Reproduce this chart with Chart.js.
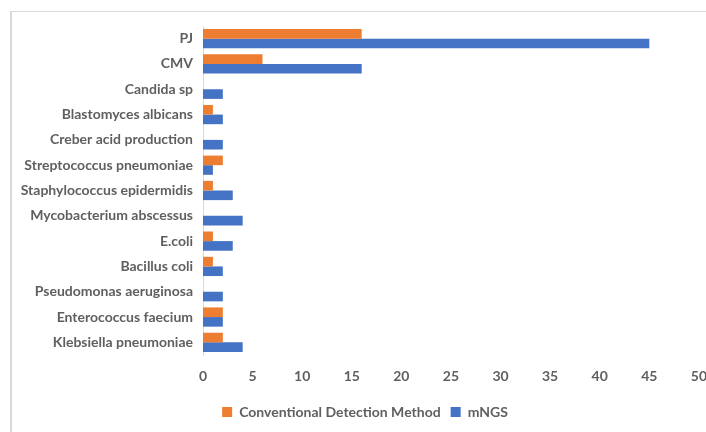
<!DOCTYPE html>
<html>
<head>
<meta charset="utf-8">
<script src="https://cdn.jsdelivr.net/npm/chart.js@4/dist/chart.umd.min.js"></script>
<style>
  html, body { margin: 0; padding: 0; background: #fff; overflow: hidden; width: 706px; height: 432px; }
  #frame { position: absolute; left: 10px; top: 11px; width: 900px; height: 600px;
           border-top: 1px solid #d9d9d9; border-left: 2px solid #d9d9d9; }
  #c { position: absolute; left: 0; top: 0; }
</style>
</head>
<body>
<div id="frame"></div>
<canvas id="c" width="720" height="432"></canvas>
<script>
// Pathogens detected, listed top to bottom
const categories = [
  'PJ', 'CMV', 'Candida sp', 'Blastomyces albicans', 'Creber acid production',
  'Streptococcus pneumoniae', 'Staphylococcus epidermidis', 'Mycobacterium abscessus',
  'E.coli', 'Bacillus coli', 'Pseudomonas aeruginosa', 'Enterococcus faecium',
  'Klebsiella pneumoniae'
];
// Number of positive cases per method
const conventional = [16, 6, 0, 1, 0, 2, 1, 0, 1, 1, 0, 2, 2];
const mngs         = [45, 16, 2, 2, 2, 1, 3, 4, 3, 2, 2, 2, 4];
const seriesNames  = ['Conventional Detection Method', 'mNGS'];
const xTicks = [0, 5, 10, 15, 20, 25, 30, 35, 40, 45, 50];

const textColor = '#5f5f5f';
const labelFont = { family: 'Lato, "Open Sans", sans-serif', size: 14, weight: 'bold' };

// Nudge the bottom legend so it sits centred under the frame rather than the canvas
const legendShift = {
  id: 'legendShift',
  afterLayout(chart) {
    const lg = chart.legend;
    if (lg) { lg.left += 14; lg.right += 14; }
  }
};

new Chart(document.getElementById('c'), {
  type: 'bar',
  data: {
    labels: categories,
    datasets: [
      { label: seriesNames[0], data: conventional, backgroundColor: '#ED7D31',
        categoryPercentage: 0.76, barPercentage: 1.0 },
      { label: seriesNames[1], data: mngs, backgroundColor: '#4472C4',
        categoryPercentage: 0.76, barPercentage: 1.0 }
    ]
  },
  plugins: [legendShift],
  options: {
    indexAxis: 'y',
    responsive: false,
    animation: false,
    layout: { padding: { top: 26, right: 18, bottom: 3, left: 0 } },
    plugins: {
      tooltip: { enabled: false },
      legend: {
        position: 'bottom',
        labels: {
          boxWidth: 10, boxHeight: 10, padding: 10,
          color: textColor,
          font: labelFont
        }
      }
    },
    scales: {
      x: {
        min: xTicks[0],
        max: xTicks[xTicks.length - 1],
        afterBuildTicks: (scale) => { scale.ticks = xTicks.map(v => ({ value: v })); },
        grid: { display: false, drawTicks: false },
        border: { display: false },
        ticks: { color: textColor, padding: 13, font: labelFont },
        afterFit: (scale) => { scale.height = 40; }
      },
      y: {
        grid: { display: false, drawTicks: false },
        border: { display: true, color: '#d9d9d9', width: 1 },
        ticks: { color: textColor, padding: 10, autoSkip: false, font: labelFont },
        afterFit: (scale) => { scale.width = 203; }
      }
    }
  }
});
</script>
</body>
</html>
